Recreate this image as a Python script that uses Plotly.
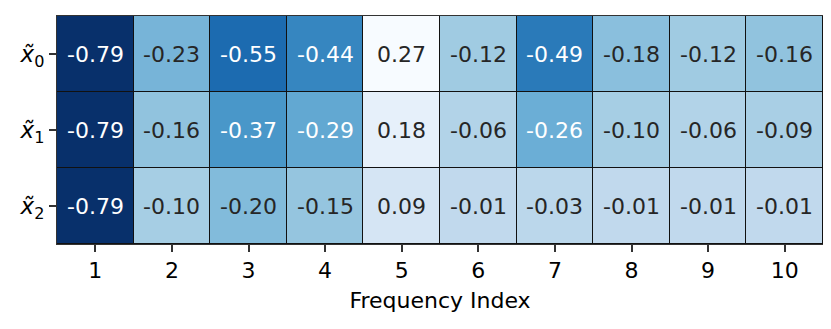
import plotly.graph_objects as go

freq_index = [1, 2, 3, 4, 5, 6, 7, 8, 9, 10]
row_labels = ["<i>x̃</i><sub>0</sub>", "<i>x̃</i><sub>1</sub>", "<i>x̃</i><sub>2</sub>"]
row0 = [-0.79, -0.23, -0.55, -0.44, 0.27, -0.12, -0.49, -0.18, -0.12, -0.16]
row1 = [-0.79, -0.16, -0.37, -0.29, 0.18, -0.06, -0.26, -0.10, -0.06, -0.09]
row2 = [-0.79, -0.10, -0.20, -0.15, 0.09, -0.01, -0.03, -0.01, -0.01, -0.01]
z = [row0, row1, row2]

blues = ["#f7fbff", "#deebf7", "#c6dbef", "#9ecae1", "#6baed6",
         "#4292c6", "#2171b5", "#08519c", "#08306b"]
rev = blues[::-1]
colorscale = [[i / (len(rev) - 1), c] for i, c in enumerate(rev)]
zmin = min(min(r) for r in z)
zmax = max(max(r) for r in z)

fig = go.Figure(go.Heatmap(
    z=z, x=freq_index, y=row_labels, colorscale=colorscale,
    zmin=zmin, zmax=zmax, showscale=False, xgap=1, ygap=1,
))

annotations = []
for ri, row in enumerate(z):
    for ci, v in enumerate(row):
        frac = (v - zmin) / (zmax - zmin)
        col = "white" if frac < 0.51 else "#262626"
        annotations.append(dict(
            x=freq_index[ci], y=ri, xref="x", yref="y",
            text=f"{v:.2f}", showarrow=False,
            font=dict(size=22, color=col, family="DejaVu Sans"),
        ))

# page body has an 8px default margin; size the figure to fit the window
fig.update_layout(
    width=823, height=321,
    margin=dict(l=49, r=8, t=8, b=85),
    paper_bgcolor="white", plot_bgcolor="#111111",
    font=dict(family="DejaVu Sans", size=22, color="black"),
    annotations=annotations,
    xaxis=dict(
        title=dict(text="Frequency Index", font=dict(size=22), standoff=10),
        tickmode="array", tickvals=freq_index, ticktext=[str(f) for f in freq_index],
        range=[0.5, 10.5],
        ticks="outside", ticklen=7, tickwidth=1.5, tickcolor="#333333",
        showline=True, linecolor="#333333", linewidth=1, mirror=True,
        showgrid=False, zeroline=False, tickfont=dict(size=22),
    ),
    yaxis=dict(
        autorange="reversed",
        ticks="outside", ticklen=7, tickwidth=1.5, tickcolor="#333333",
        showline=True, linecolor="#333333", linewidth=1, mirror=True,
        showgrid=False, zeroline=False, tickfont=dict(size=23),
    ),
)

fig.write_html("out.html")
